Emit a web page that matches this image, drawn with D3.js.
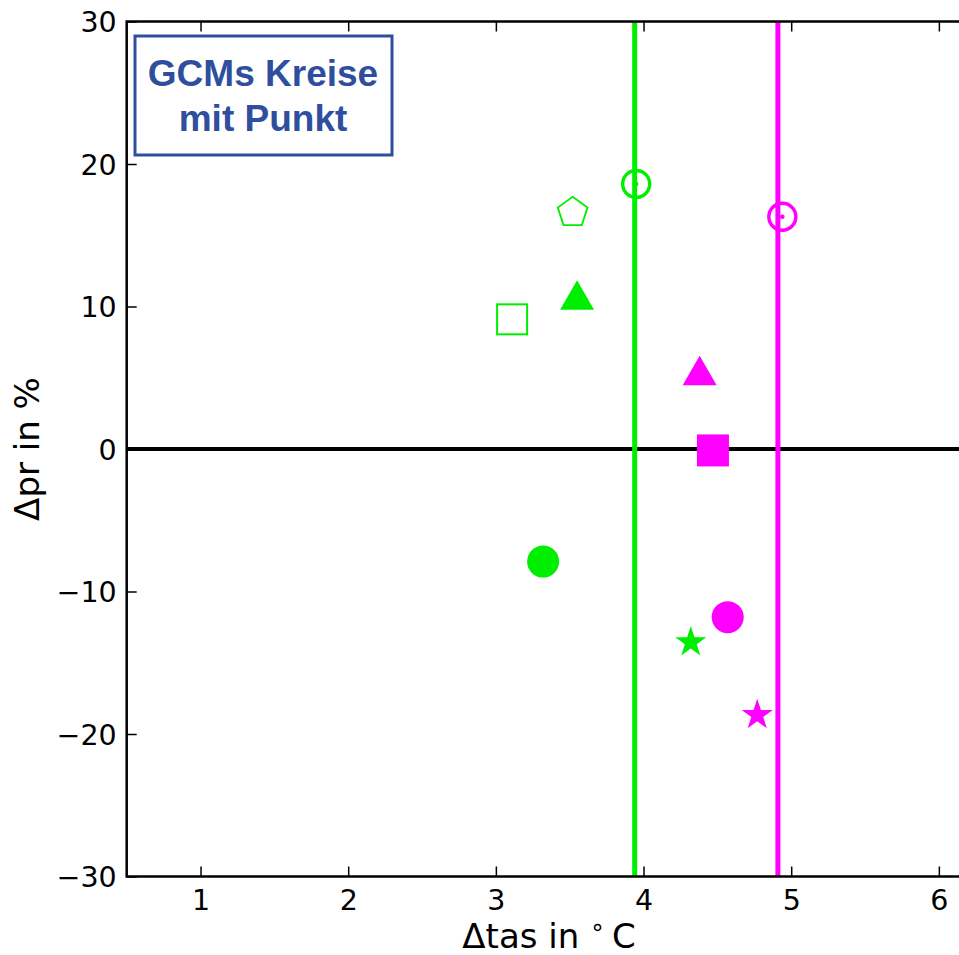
<!DOCTYPE html>
<html>
<head>
<meta charset="utf-8">
<script src="https://cdn.jsdelivr.net/npm/d3@7"></script>
<style>
  body { margin: 0; background: #fff; }
  svg { display: block; overflow: hidden; }
  .tick text { font-family: "DejaVu Sans", sans-serif; font-size: 28.5px; fill: #000; }
</style>
</head>
<body>
<svg id="chart"></svg>
<script>
// data
const xTicks = [1, 2, 3, 4, 5, 6];
const yTicks = [-30, -20, -10, 0, 10, 20, 30];

const greenDtas = [3.95, 3.52, 3.55, 3.11, 3.32, 4.32];
const greenDpr = [18.6, 16.6, 10.6, 9.1, -7.9, -13.5];
const greenMarkers = ['circledot', 'pentagon', 'triangle', 'square-open', 'circle', 'star'];
const greenMean = 3.94;

const magentaDtas = [4.94, 4.38, 4.47, 4.57, 4.77];
const magentaDpr = [16.3, 5.3, -0.1, -11.8, -18.6];
const magentaMarkers = ['circledot', 'triangle', 'square', 'circle', 'star'];
const magentaMean = 4.91;

const boxLines = ['GCMs Kreise', 'mit Punkt'];

const GREEN = '#00ee00';
const MAGENTA = '#ff00ff';

const config = {
  width: 959, height: 955,
  margin: {top: 21.5, left: 126.7},
  plotW: 886, plotH: 855
};

const svg = d3.select('#chart')
  .attr('width', config.width)
  .attr('height', config.height);

const xScale = d3.scaleLinear().domain([0.5, 6.5])
  .range([config.margin.left, config.margin.left + config.plotW]);
const yScale = d3.scaleLinear().domain([-30, 30])
  .range([config.margin.top + config.plotH, config.margin.top]);

const x0 = xScale.range()[0], x1 = xScale.range()[1];
const y0 = yScale.range()[1], y1 = yScale.range()[0];

// reference lines
svg.append('line')
  .attr('x1', x0).attr('x2', x1)
  .attr('y1', yScale(0)).attr('y2', yScale(0))
  .attr('stroke', '#000').attr('stroke-width', 4);

const means = [{v: greenMean, c: GREEN}, {v: magentaMean, c: MAGENTA}];
svg.selectAll('.vline').data(means).join('line')
  .attr('class', 'vline')
  .attr('x1', d => xScale(d.v)).attr('x2', d => xScale(d.v))
  .attr('y1', y0).attr('y2', y1)
  .attr('stroke', d => d.c).attr('stroke-width', 5);

// pentagon symbol
const symbolPentagon = {
  draw(ctx, size) {
    const r = Math.sqrt(size / 2.3776);
    for (let i = 0; i < 5; i++) {
      const a = -Math.PI / 2 + i * 2 * Math.PI / 5;
      const px = r * Math.cos(a), py = r * Math.sin(a);
      if (i === 0) ctx.moveTo(px, py); else ctx.lineTo(px, py);
    }
    ctx.closePath();
  }
};

function drawMarker(g, type, color) {
  if (type === 'circledot') {
    g.append('circle').attr('r', 13.5).attr('fill', 'none')
      .attr('stroke', color).attr('stroke-width', 3.4);
    g.append('circle').attr('r', 2.3).attr('fill', color);
  } else if (type === 'pentagon') {
    g.append('path').attr('d', d3.symbol(symbolPentagon, 580)())
      .attr('fill', 'none').attr('stroke', color).attr('stroke-width', 1.8);
  } else if (type === 'triangle') {
    g.append('path').attr('d', d3.symbol(d3.symbolTriangle, 500)())
      .attr('transform', 'translate(0,2)')
      .attr('fill', color);
  } else if (type === 'square-open') {
    g.append('rect').attr('x', -15).attr('y', -15).attr('width', 30).attr('height', 30)
      .attr('fill', 'none').attr('stroke', color).attr('stroke-width', 2);
  } else if (type === 'square') {
    g.append('rect').attr('x', -16).attr('y', -16).attr('width', 32).attr('height', 32)
      .attr('fill', color);
  } else if (type === 'circle') {
    g.append('circle').attr('r', 16).attr('fill', color);
  } else if (type === 'star') {
    g.append('path').attr('d', d3.symbol(d3.symbolStar, 300)())
      .attr('transform', 'translate(0,1)')
      .attr('fill', color);
  }
}

function drawSeries(xs, ys, types, color) {
  xs.forEach((v, i) => {
    const g = svg.append('g')
      .attr('transform', `translate(${xScale(v)},${yScale(ys[i])})`);
    drawMarker(g, types[i], color);
  });
}
drawSeries(greenDtas, greenDpr, greenMarkers, GREEN);
drawSeries(magentaDtas, magentaDpr, magentaMarkers, MAGENTA);

// axes with inward ticks (matplotlib classic)
const fmt = d => d < 0 ? '\u2212' + Math.abs(d) : String(d);
const xAxis = svg.append('g')
  .attr('transform', `translate(0,${y1})`)
  .call(d3.axisBottom(xScale).tickValues(xTicks).tickFormat(fmt).tickSizeInner(-10).tickSizeOuter(0));
const xAxisTop = svg.append('g')
  .attr('transform', `translate(0,${y0})`)
  .call(d3.axisTop(xScale).tickValues(xTicks).tickFormat('').tickSizeInner(-10).tickSizeOuter(0));
const yAxis = svg.append('g')
  .attr('transform', `translate(${x0},0)`)
  .call(d3.axisLeft(yScale).tickValues(yTicks).tickFormat(fmt).tickSizeInner(-10).tickSizeOuter(0));

[xAxis, xAxisTop, yAxis].forEach(a => {
  a.select('.domain').remove();
  a.selectAll('.tick line').attr('stroke', '#000').attr('stroke-width', 1.5);
});
xAxis.selectAll('.tick text').attr('dy', '0.35em').attr('y', 24);
yAxis.selectAll('.tick text').attr('dy', '0.36em').attr('x', -10);

// spines
svg.append('rect')
  .attr('x', x0).attr('y', y0)
  .attr('width', x1 - x0).attr('height', y1 - y0)
  .attr('fill', 'none').attr('stroke', '#000').attr('stroke-width', 2.5);

// axis labels
const xLabel = svg.append('text')
  .attr('x', 549).attr('y', 948)
  .attr('text-anchor', 'middle')
  .style('font-family', '"DejaVu Sans", sans-serif')
  .style('font-size', '34px')
  .text('\u0394tas in ');
xLabel.append('tspan').attr('dy', -13).style('font-size', '24px').text('\u2218');
xLabel.append('tspan').attr('dy', 13).text('\u2009C');

svg.append('text')
  .attr('transform', `translate(27,${yScale(0)}) rotate(-90)`)
  .attr('text-anchor', 'middle')
  .attr('dy', '0.36em')
  .style('font-family', '"DejaVu Sans", sans-serif')
  .style('font-size', '34px')
  .text('\u0394pr in %');

// annotation box
svg.append('rect')
  .attr('x', 135).attr('y', 36)
  .attr('width', 257).attr('height', 119)
  .attr('fill', '#fff')
  .attr('stroke', '#2f4f9e').attr('stroke-width', 3);

svg.selectAll('.boxline').data(boxLines).join('text')
  .attr('class', 'boxline')
  .attr('x', 263)
  .attr('y', (d, i) => 86 + i * 45)
  .attr('text-anchor', 'middle')
  .style('font-family', '"Liberation Sans", Arial, sans-serif')
  .style('font-weight', 'bold')
  .style('font-size', '37px')
  .attr('fill', '#2f4f9e')
  .text(d => d);
</script>
</body>
</html>
